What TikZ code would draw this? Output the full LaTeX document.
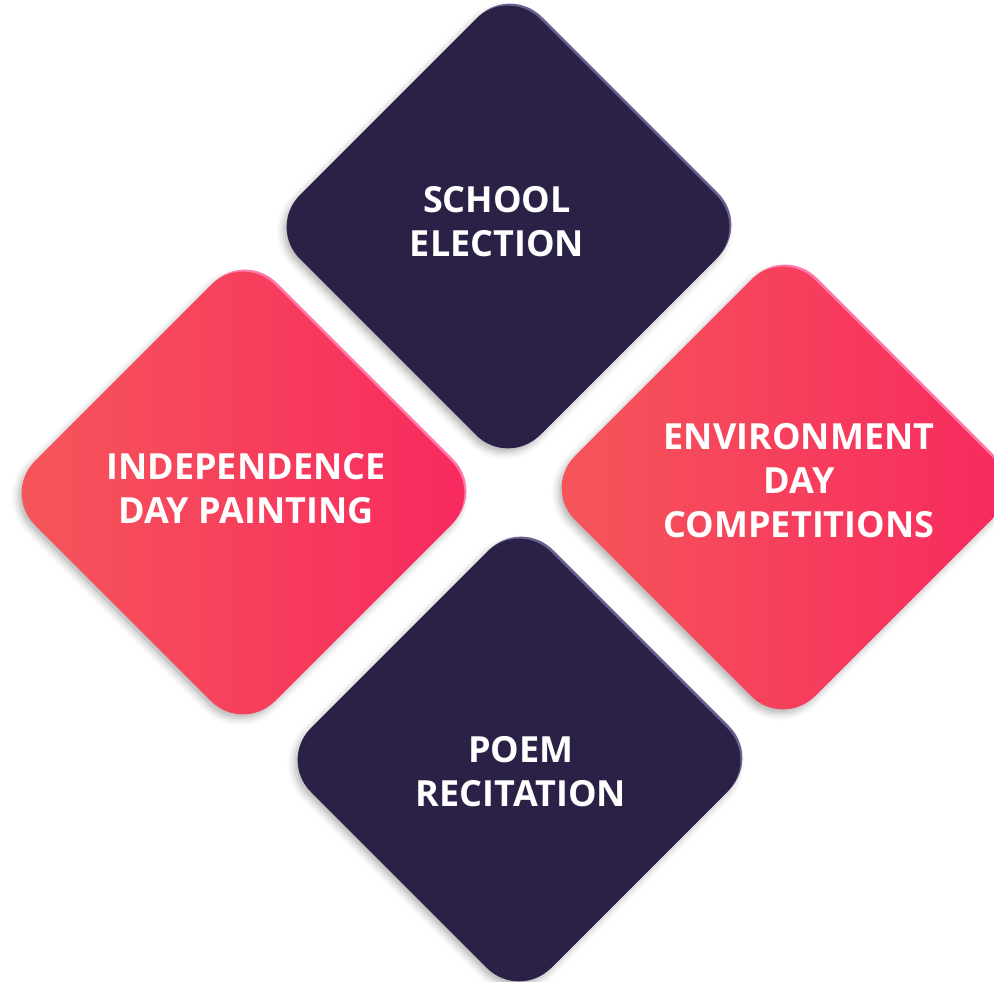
\documentclass[tikz,border=0pt]{standalone}
\usepackage{fontspec}
\setmainfont{Open Sans}
\usetikzlibrary{shapes.geometric,shadows.blur}

\definecolor{navy}{HTML}{2B2045}
\definecolor{navyrim}{HTML}{6B608E}
\definecolor{pinkL}{HTML}{F5585A}
\definecolor{pinkR}{HTML}{F8285F}
\definecolor{pinkrim}{HTML}{FF7AAA}

\tikzset{
  tile/.style={diamond, aspect=1, minimum width=480pt, minimum height=480pt,
    inner sep=0pt, outer sep=0pt, rounded corners=45pt},
  rim/.style={tile, fill=#1, xshift=2pt, yshift=2pt,
    blur shadow={shadow xshift=-5pt, shadow yshift=-6pt, shadow blur radius=7pt, shadow opacity=30}},
  darktile/.style={tile, fill=navy},
  pinktile/.style={tile, left color=pinkL, right color=pinkR},
  caption/.style={text=white, font=\bfseries\fontsize{36}{44}\selectfont, align=center}
}

\begin{document}
\begin{tikzpicture}[x=1pt, y=-1pt]
  \useasboundingbox (0,0) rectangle (994,982);

  % the four tiles
  \node[rim=navyrim]  (election-rim) at (508,227) {};
  \node[darktile]     (election)     at (508,227) {};
  \node[rim=pinkrim]  (painting-rim) at (243,493) {};
  \node[pinktile]     (painting)     at (243,493) {};
  \node[rim=pinkrim]  (environ-rim)  at (783,488) {};
  \node[pinktile]     (environ)      at (783,488) {};
  \node[rim=navyrim]  (poem-rim)     at (519,760) {};
  \node[darktile]     (poem)         at (519,760) {};

  % captions
  \node[caption] (election-txt) at ([xshift=-11pt, yshift=5pt]election.center) {SCHOOL\\ELECTION};
  \node[caption] (painting-txt) at ([xshift=3pt, yshift=4pt]painting.center) {INDEPENDENCE\\DAY PAINTING};
  \node[caption] (environ-txt)  at ([xshift=16pt, yshift=7pt]environ.center) {ENVIRONMENT\\DAY\\COMPETITIONS};
  \node[caption] (poem-txt)     at ([xshift=2pt, yshift=-12pt]poem.center) {POEM\\RECITATION};
\end{tikzpicture}
\end{document}
